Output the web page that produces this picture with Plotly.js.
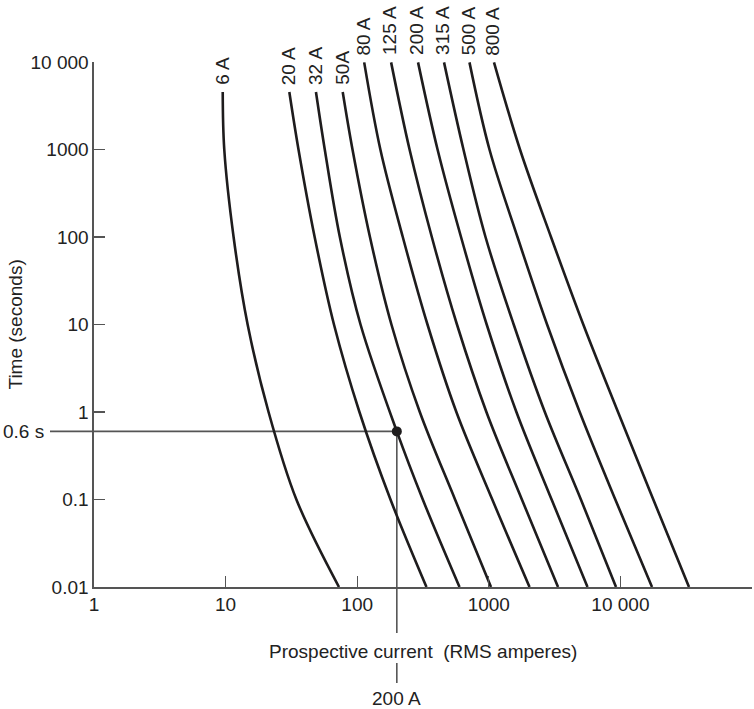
<!DOCTYPE html>
<html>
<head>
<meta charset="utf-8">
<script src="https://cdn.plot.ly/plotly-3.0.1.min.js"></script>
<style>html,body{margin:0;padding:0;background:#fff;}#chart{width:754px;height:709px;}</style>
</head>
<body>
<div id="chart"></div>
<script>
// Fuse ratings (curve labels)
const ratings = ['6 A', '20 A', '32 A', '50A', '80 A', '125 A', '200 A', '315 A', '500 A', '800 A'];

// Time values (seconds) at which the currents below were read
const timeLeft  = [4540, 1000, 100, 10, 1, 0.1, 0.01];
const time32    = [4540, 1000, 100, 10, 0.6, 0.1, 0.01];
const timeRight = [9900, 1000, 100, 10, 1, 0.1, 0.01];

// Prospective current (A) for each curve at those times
const curr6   = [9.51, 9.77, 11.5, 14.7, 21.2, 34.5, 72.7];
const curr20  = [30.5, 35.8, 47.5, 66.6, 104, 179, 336];
const curr32  = [48.6, 56.7, 73.8, 106, 200, 315, 599];
const curr50  = [77.6, 92.1, 125, 182, 299, 554, 1039];
const curr80  = [113, 150, 222, 342, 567, 1063, 2039];
const curr125 = [181, 250, 369, 573, 959, 1784, 3357];
const curr200 = [290, 408, 615, 964, 1621, 3001, 5623];
const curr315 = [457, 642, 944, 1546, 2665, 5010, 9261];
const curr500 = [713, 1012, 1652, 2773, 4906, 9146, 17385];
const curr800 = [1095, 1726, 2969, 5225, 9590, 17783, 33210];

const curves = [curr6, curr20, curr32, curr50, curr80, curr125, curr200, curr315, curr500, curr800];
const curveTimes = [timeLeft, timeLeft, time32, timeLeft, timeRight, timeRight, timeRight, timeRight, timeRight, timeRight];

// Highlighted operating point
const pointCurrent = [200];
const pointTime = [0.6];

// Axis ticks
const xTickVals = [1, 10, 100, 1000, 10000, 100000];
const xTickText = ['1', '10', '100', '1000', '10 000', ''];
const yTickVals = [0.01, 0.1, 1, 10, 100, 1000, 10000];
const yTickText = ['0.01', '0.1', '1', '10', '100', '1000', '10 000'];

const FONT = 'Liberation Sans, Arial, Helvetica, sans-serif';
const FS = 19;
const INK = '#1e1c1d';
const AXC = '#555555';

const traces = curves.map((c, i) => ({
  x: c, y: curveTimes[i], type: 'scatter', mode: 'lines',
  line: {color: INK, width: 2.6, shape: 'spline', smoothing: 1},
  hoverinfo: 'skip', showlegend: false
}));
traces.push({
  x: pointCurrent, y: pointTime, type: 'scatter', mode: 'markers',
  marker: {color: INK, size: 10}, showlegend: false, cliponaxis: false
});

const annotations = curves.map((c, i) => ({
  x: Math.log10(c[0]), y: Math.log10(curveTimes[i][0]), xref: 'x', yref: 'y',
  text: ratings[i], showarrow: false, textangle: -90,
  xanchor: 'center', yanchor: 'bottom', yshift: 5, xshift: -1,
  font: {family: FONT, size: FS, color: '#222'}
}));
annotations.push(
  {x: 0.5, y: 0, xref: 'paper', yref: 'paper', yshift: -64, text: 'Prospective current  (RMS amperes)',
   showarrow: false, xanchor: 'center', yanchor: 'middle', font: {family: FONT, size: FS, color: '#222'}},
  {x: 0, y: 0.5, xref: 'paper', yref: 'paper', xshift: -79, text: 'Time (seconds)', textangle: -90,
   showarrow: false, xanchor: 'center', yanchor: 'middle', font: {family: FONT, size: FS, color: '#222'}},
  {x: 0, y: Math.log10(pointTime[0]), xref: 'paper', yref: 'y', xshift: -48, text: '0.6 s',
   showarrow: false, xanchor: 'right', yanchor: 'middle', font: {family: FONT, size: FS, color: '#222'}},
  {x: Math.log10(pointCurrent[0]), y: 0, xref: 'x', yref: 'paper', yshift: -111, text: '200 A',
   showarrow: false, xanchor: 'center', yanchor: 'middle', font: {family: FONT, size: FS, color: '#222'}}
);

const plotH = 709 - 62 - 122;
const shapes = [
  {type: 'line', xref: 'paper', yref: 'y', x0: -44 / 658, x1: Math.log10(pointCurrent[0]) / 5,
   y0: pointTime[0], y1: pointTime[0], line: {color: AXC, width: 1.6}, layer: 'below'},
  {type: 'line', xref: 'x', yref: 'y', x0: pointCurrent[0], x1: pointCurrent[0],
   y0: pointTime[0], y1: 0.01, line: {color: AXC, width: 1.6}, layer: 'below'},
  {type: 'line', xref: 'x', yref: 'paper', x0: pointCurrent[0], x1: pointCurrent[0],
   y0: 0, y1: -46 / plotH, line: {color: AXC, width: 1.6}},
  {type: 'line', xref: 'x', yref: 'paper', x0: pointCurrent[0], x1: pointCurrent[0],
   y0: -76 / plotH, y1: -96 / plotH, line: {color: AXC, width: 1.6}}
];

const axisCommon = {
  type: 'log', showgrid: false, zeroline: false, showline: true,
  linecolor: AXC, linewidth: 1.6, ticks: 'inside', ticklen: 11, tickwidth: 1.3, tickcolor: AXC,
  tickfont: {family: FONT, size: FS, color: '#222'}, tickmode: 'array'
};

const layout = {
  width: 754, height: 709,
  margin: {l: 94, r: 2, t: 62, b: 122},
  paper_bgcolor: '#fff', plot_bgcolor: '#fff',
  showlegend: false,
  xaxis: Object.assign({}, axisCommon, {range: [0, 5], tickvals: xTickVals, ticktext: xTickText}),
  yaxis: Object.assign({}, axisCommon, {range: [-2, 4], tickvals: yTickVals, ticktext: yTickText}),
  annotations: annotations,
  shapes: shapes
};

Plotly.newPlot('chart', traces, layout, {displayModeBar: false, staticPlot: true});
</script>
</body>
</html>
